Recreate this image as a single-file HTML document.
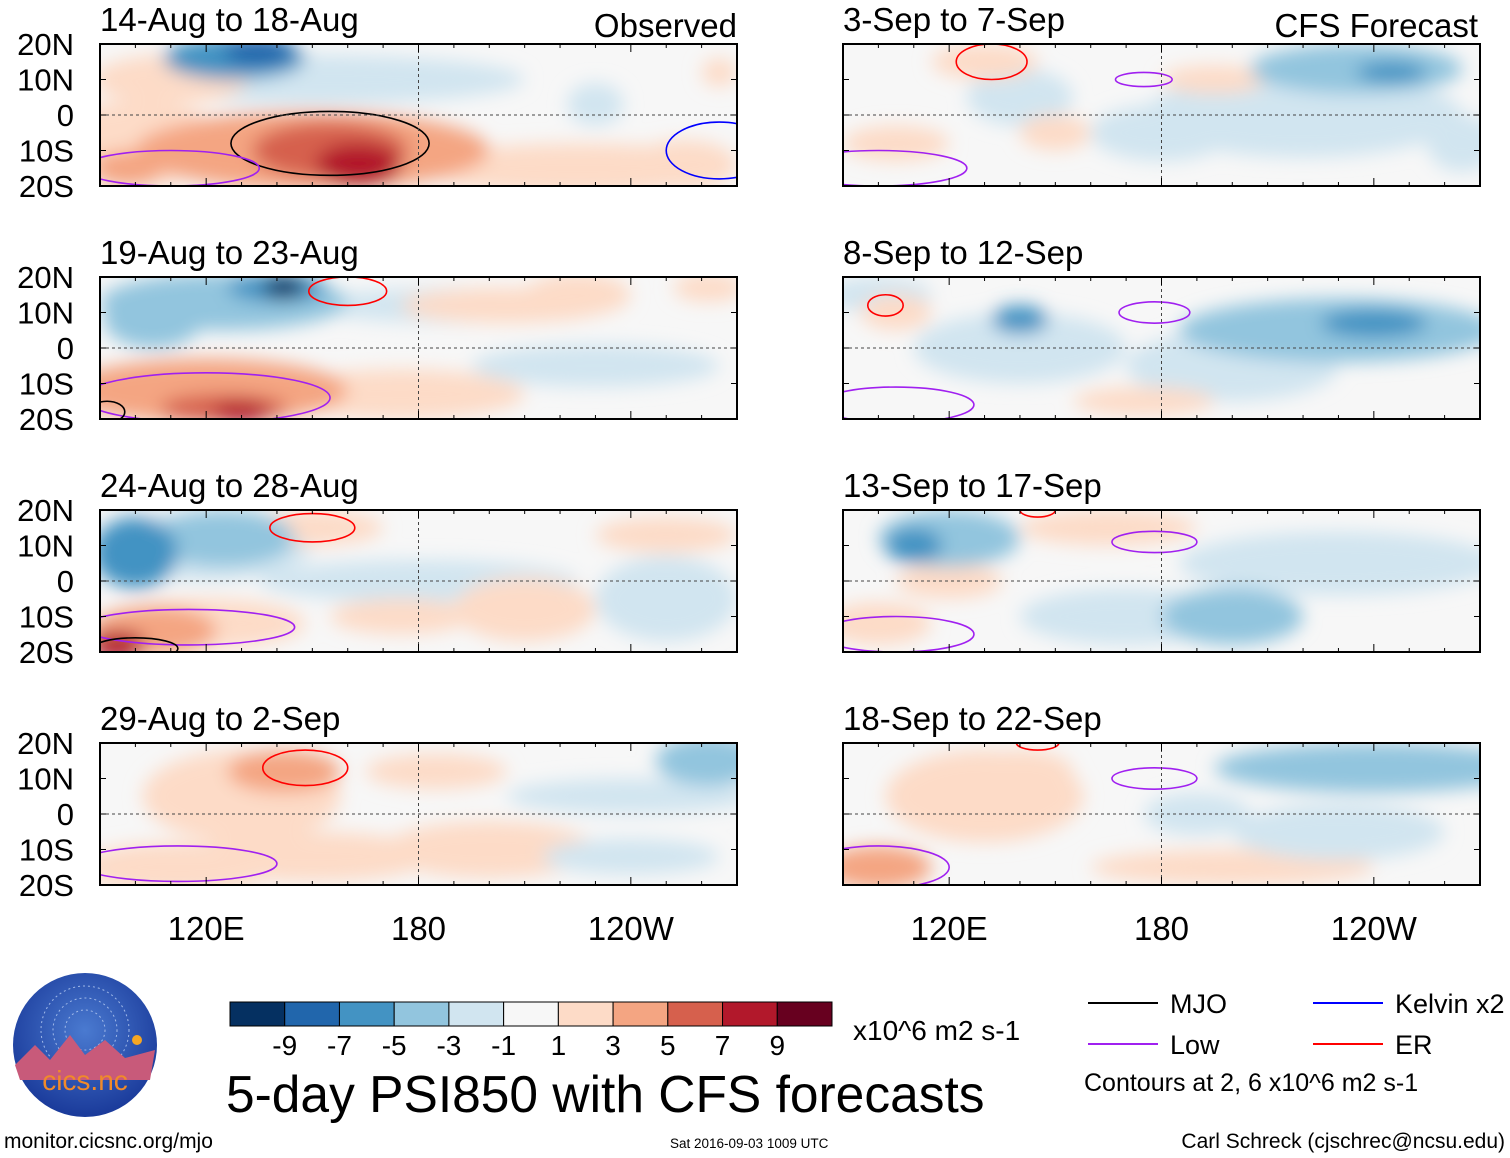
<!DOCTYPE html>
<html><head><meta charset="utf-8">
<style>
body{margin:0;background:#fff;width:1510px;height:1158px;overflow:hidden;font-family:"Liberation Sans",sans-serif;}
svg{position:absolute;left:0;top:0}
</style></head>
<body>
<svg id="chart" width="1510" height="1158" xmlns="http://www.w3.org/2000/svg">
<defs>
<filter id="blur" x="-20%" y="-50%" width="140%" height="200%"><feGaussianBlur stdDeviation="9"/></filter>
<radialGradient id="logoGrad" cx="50%" cy="40%" r="60%"><stop offset="0" stop-color="#4a7ad0"/><stop offset="1" stop-color="#1a3a9a"/></radialGradient>
</defs>
</svg>
<script>
const titles = ["14-Aug to 18-Aug","19-Aug to 23-Aug","24-Aug to 28-Aug","29-Aug to 2-Sep","3-Sep to 7-Sep","8-Sep to 12-Sep","13-Sep to 17-Sep","18-Sep to 22-Sep"];
// blobs: [lon, lat, rxDeg, ryDeg, value]
const field0 = [[150,10,60,7,-2],[110,10,22,7,2],[100,-8,25,12,3],[150,-10,50,11,4],[155,-10,22,8,6],[163,-14,12,6,8],[98,-15,10,5,5],[128,16,20,6,-5],[135,18,10,4,-8],[230,3,8,6,-2],[225,-15,45,7,2],[255,-14,15,7,2],[265,12,5,4,2]];
const field1 = [[125,13,35,8,-3],[140,17,14,4,-6],[142,17,6,3,-9],[105,8,14,8,-3],[190,12,40,5,-2],[120,-12,40,9,4],[125,-17,18,4,7],[130,-18,8,3,9],[175,-13,35,7,2],[225,15,15,6,3],[262,17,10,4,3],[205,12,30,5,2],[230,-5,35,6,-2]];
const field2 = [[120,10,30,10,-2],[100,8,12,10,-5],[125,12,20,8,-3],[180,0,45,6,-2],[250,-5,20,12,-2],[105,-14,18,7,5],[95,-18,8,4,9],[120,-12,28,7,3],[150,15,20,5,2],[210,-8,20,9,2],[250,13,20,5,2],[175,-10,20,5,2]];
const field3 = [[130,5,28,13,2],[142,12,16,6,5],[112,-15,28,7,3],[150,-12,35,7,2],[200,-10,30,8,2],[185,12,20,5,2],[262,15,15,7,-3],[240,5,35,5,-2],[240,-12,25,5,-2]];
const field4 = [[220,0,45,12,-2],[235,13,30,7,-3],[245,12,10,3,-5],[180,-5,20,8,-2],[140,5,15,8,-2],[265,-8,10,8,-2],[130,15,15,5,2],[105,-8,15,5,2],[150,-5,10,5,2],[195,10,15,4,2]];
const field5 = [[230,5,45,9,-3],[240,7,15,4,-5],[200,-5,30,10,-2],[140,0,30,10,-2],[140,8,8,4,-5],[100,15,15,5,-2],[105,10,10,5,2],[175,-15,20,4,2]];
const field6 = [[230,5,45,9,-2],[120,12,20,8,-3],[110,10,8,5,-5],[170,-10,30,8,-2],[200,-10,20,8,-3],[100,-12,15,6,2],[165,15,25,5,2],[120,0,15,5,2]];
const field7 = [[130,5,28,13,2],[140,12,15,6,3],[100,-15,15,6,4],[200,-15,40,5,2],[240,13,45,7,-3],[230,-5,30,8,-2],[190,0,15,6,-2]];
const fields = [field0,field1,field2,field3,field4,field5,field6,field7];
// contours: [lon, lat, rxDeg, ryDeg, type]
const contours = [
 [[155,-8,28,9,"MJO"],[110,-15,25,5,"Low"],[265,-10,15,8,"Kelvin"]],
 [[160,16,11,4,"ER"],[120,-14,35,7,"Low"],[92,-18,5,3,"MJO"]],
 [[150,15,12,4,"ER"],[115,-13,30,5,"Low"],[100,-19,12,3,"MJO"]],
 [[148,13,12,5,"ER"],[112,-14,28,5,"Low"]],
 [[132,15,10,5,"ER"],[175,10,8,2,"Low"],[100,-15,25,5,"Low"]],
 [[102,12,5,3,"ER"],[178,10,10,3,"Low"],[105,-16,22,5,"Low"]],
 [[178,11,12,3,"Low"],[105,-15,22,5,"Low"],[145,20,5,2,"ER"]],
 [[178,10,12,3,"Low"],[100,-15,20,6,"Low"],[145,20,6,2,"ER"]]
];
const levels = [-9,-7,-5,-3,-1,1,3,5,7,9];
const levelColors = ["#053061","#2166ac","#4393c3","#92c5de","#d1e5f0","#f7f7f7","#fddbc7","#f4a582","#d6604d","#b2182b","#67001f"];
const yTicks = [20,10,0,-10,-20];
const yTickLabels = ["20N","10N","0","10S","20S"];
const xTicks = [120,180,240];
const xTickLabels = ["120E","180","120W"];
const lineColors = {MJO:"#000",Low:"#a020f0",Kelvin:"#0000ff",ER:"#ff0000"};

const NS="http://www.w3.org/2000/svg";
const svg=document.getElementById('chart');
function mk(tag,attrs,parent){const e=document.createElementNS(NS,tag);for(const k in attrs)e.setAttribute(k,attrs[k]);(parent||svg).appendChild(e);return e;}
function colorOf(v){let i=0;while(i<levels.length&&v>levels[i])i++;return levelColors[i];}
const W=637,H=142,lon0=90,lon1=270,lat0=-20,lat1=20;
const colX=[100,843], rowY=[44,277,510,743];

for(let p=0;p<8;p++){
 const ox=colX[Math.floor(p/4)], oy=rowY[p%4];
 const xs=lon=>ox+(lon-lon0)/(lon1-lon0)*W;
 const ys=lat=>oy+(lat1-lat)/(lat1-lat0)*H;
 const g=mk('g',{});
 
 
 mk('clipPath',{id:'clip'+p},g);
 mk('rect',{x:ox,y:oy,width:W,height:H},document.getElementById('clip'+p));
 const inner=mk('g',{'clip-path':'url(#clip'+p+')'},g);
 mk('rect',{x:ox,y:oy,width:W,height:H,fill:'#f7f7f7'},inner);
 const fg=mk('g',{filter:'url(#blur)'},inner);
 const sorted=fields[p].slice().sort((a,b)=>Math.abs(a[4])-Math.abs(b[4]));
 sorted.forEach(b=>{
  const e=mk('ellipse',{cx:xs(b[0]),cy:ys(b[1]),rx:b[2]*W/180,ry:b[3]*H/40,fill:colorOf(b[4])},fg);
  
  
 });
 contours[p].forEach(c=>{
  const e=mk('ellipse',{cx:xs(c[0]),cy:ys(c[1]),rx:c[2]*W/180,ry:c[3]*H/40,fill:'none',stroke:lineColors[c[4]],'stroke-width':1.6},inner);
  
  
 });
 mk('line',{x1:ox,x2:ox+W,y1:ys(0),y2:ys(0),stroke:'#444','stroke-dasharray':'3,3','stroke-width':1},g);
 mk('line',{x1:xs(180),x2:xs(180),y1:oy,y2:oy+H,stroke:'#444','stroke-dasharray':'3,3','stroke-width':1},g);
 mk('rect',{x:ox,y:oy,width:W,height:H,fill:'none',stroke:'#000','stroke-width':2},g);
 for(let lon=lon0;lon<=lon1;lon+=10){const t=lon%60===0?8:4;
  mk('line',{x1:xs(lon),x2:xs(lon),y1:oy,y2:oy+t,stroke:'#000'},g);
  mk('line',{x1:xs(lon),x2:xs(lon),y1:oy+H,y2:oy+H-t,stroke:'#000'},g);}
 yTicks.forEach(v=>{mk('line',{x1:ox,x2:ox+6,y1:ys(v),y2:ys(v),stroke:'#000'},g);mk('line',{x1:ox+W,x2:ox+W-6,y1:ys(v),y2:ys(v),stroke:'#000'},g);});
 const t=mk('text',{x:ox,y:oy-13,'font-size':33,fill:'#000'},g);t.textContent=titles[p];
 
 
 if(p<4){yTicks.forEach((v,i)=>{const l=mk('text',{x:74,y:ys(v)+11,'font-size':31,'text-anchor':'end'},g);l.textContent=yTickLabels[i];
  
  });}
 if(p%4===3){xTicks.forEach((v,i)=>{const l=mk('text',{x:xs(v),y:940,'font-size':33,'text-anchor':'middle'},g);l.textContent=xTickLabels[i];
  
  });}
}
function txt(s,x,y,size,name,anchor){const t=mk('text',{x:x,y:y,'font-size':size,'text-anchor':anchor||'start'});t.textContent=s;
 
 return t;}
txt("Observed",737,37,33,'observed-label','end');
txt("CFS Forecast",1478,37,33,'forecast-label','end');
// colorbar
const cb=mk('g',{});


const cbw=602/11;
levelColors.forEach((c,i)=>mk('rect',{x:230+i*cbw,y:1002,width:cbw,height:24,fill:c,stroke:'#000','stroke-width':1},cb));
levels.forEach((v,i)=>{const t=mk('text',{x:230+(i+1)*cbw,y:1055,'font-size':28,'text-anchor':'middle'},cb);t.textContent=String(v);});
txt("x10^6 m2 s-1",853,1040,28,'colorbar-units');
txt("5-day PSI850 with CFS forecasts",226,1112,51.5,'main-title');
// legend
const leg=[["MJO",1088,1003],["Kelvin x2",1313,1003],["Low",1088,1044],["ER",1313,1044]];
leg.forEach(l=>{const ln=mk('line',{x1:l[1],x2:l[1]+70,y1:l[2],y2:l[2],stroke:lineColors[l[0].split(' ')[0]],'stroke-width':2});
 
 
 txt(l[0],l[1]+82,l[2]+10,27,'legend-entry');});
txt("Contours at 2, 6 x10^6 m2 s-1",1084,1091,25,'contour-note');
txt("monitor.cicsnc.org/mjo",4,1148,21,'source-url');
txt("Sat 2016-09-03 1009 UTC",670,1148,13.5,'timestamp');
txt("Carl Schreck (cjschrec@ncsu.edu)",1505,1148,21,'author','end');
// logo
const lg=mk('g',{});


mk('circle',{cx:85,cy:1045,r:72,fill:'url(#logoGrad)'},lg);
[20,32,44].forEach(r=>mk('circle',{cx:85,cy:1030,r:r,fill:'none',stroke:'#9fb8e8','stroke-width':1,'stroke-dasharray':'2,3'},lg));
mk('path',{d:'M15,1065 L35,1045 L50,1060 L70,1035 L85,1055 L105,1040 L125,1058 L155,1050 L150,1080 L20,1080 Z',fill:'#c85a7a'},lg);
mk('circle',{cx:137,cy:1040,r:5,fill:'#f5a623'},lg);
const ct=mk('text',{x:85,y:1090,'font-size':28,'text-anchor':'middle',fill:'#f08a2a'},lg);ct.textContent="cics.nc";
</script>
</body></html>
